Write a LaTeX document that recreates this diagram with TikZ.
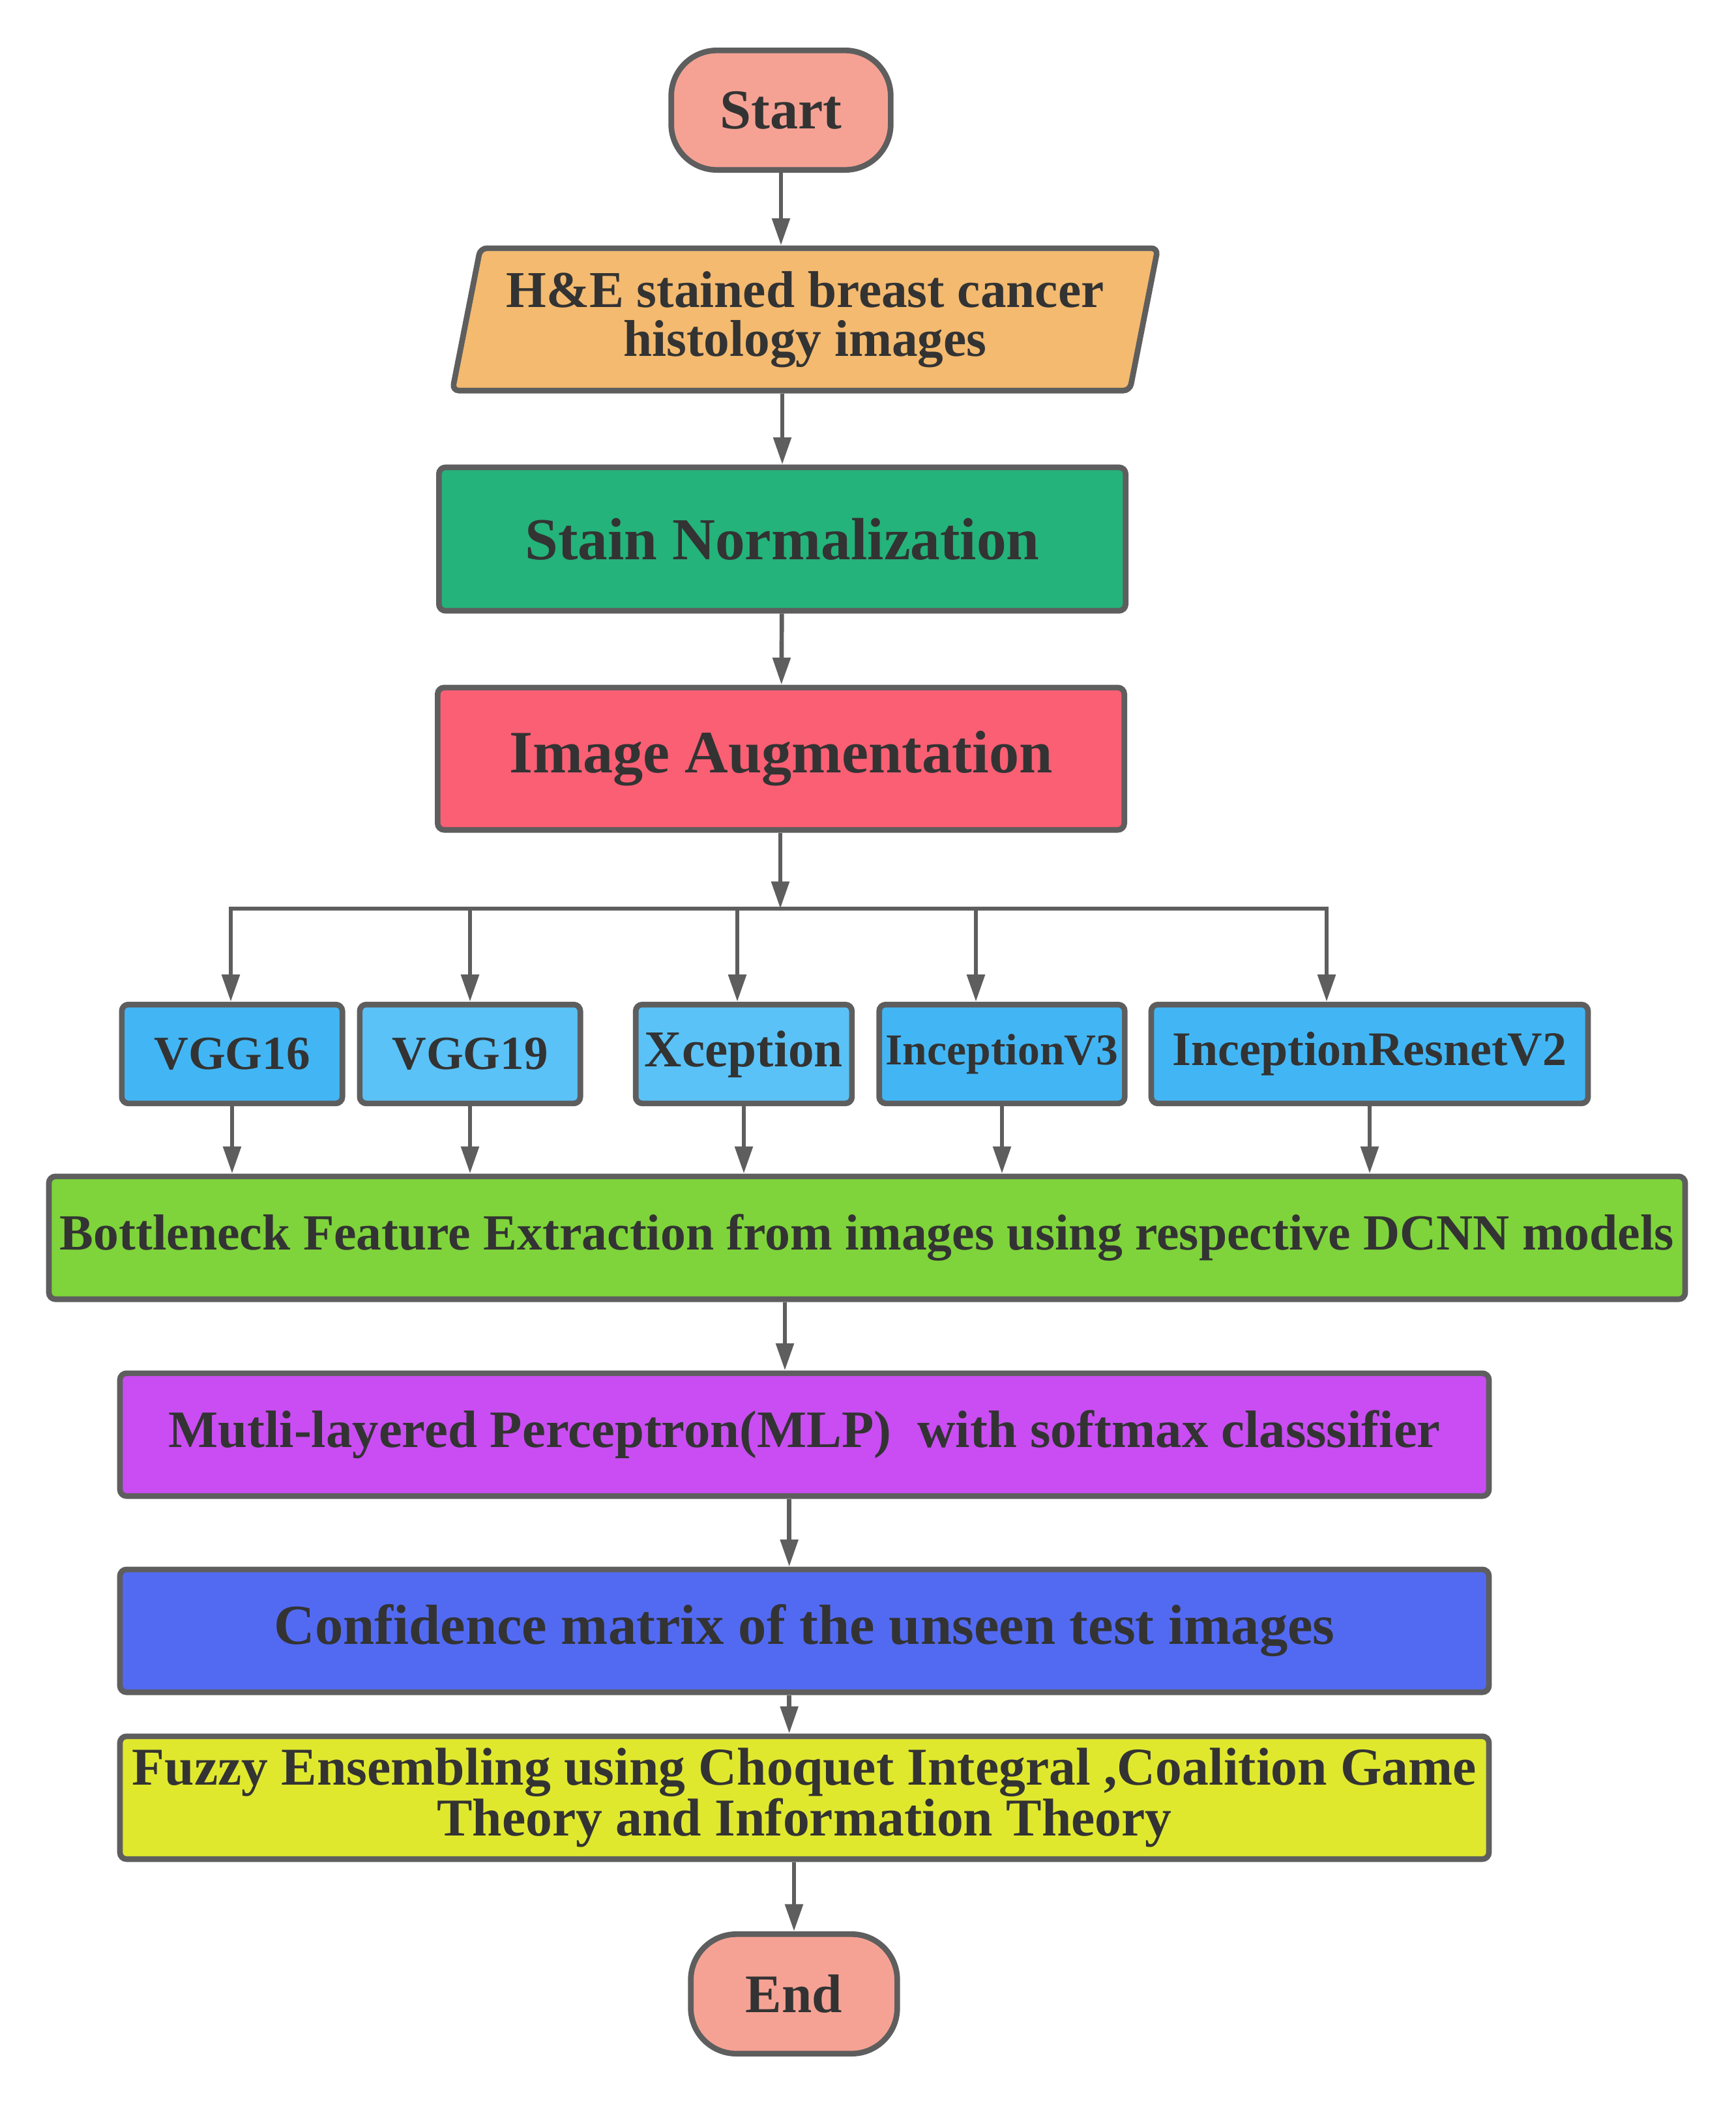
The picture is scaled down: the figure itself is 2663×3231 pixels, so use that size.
\documentclass[tikz,border=0pt]{standalone}
\usepackage{fontspec}
\setmainfont{Liberation Serif}
\usetikzlibrary{arrows.meta,shapes.geometric}

\definecolor{edgegray}{HTML}{5E5E5E}
\definecolor{textgray}{HTML}{333333}
\definecolor{termred}{HTML}{F5A294}
\definecolor{dataorange}{HTML}{F3BA70}
\definecolor{staingreen}{HTML}{24B37A}
\definecolor{augred}{HTML}{FA5F74}
\definecolor{netblue}{HTML}{42B6F4}
\definecolor{netlight}{HTML}{5AC2F7}
\definecolor{featgreen}{HTML}{7ED43A}
\definecolor{mlpviolet}{HTML}{C94DF2}
\definecolor{confblue}{HTML}{526AF2}
\definecolor{fuzzyyellow}{HTML}{E0E82E}

\tikzset{
  base/.style={draw=edgegray, line width=2.6pt, text=textgray, align=center, inner sep=0pt},
  procbox/.style={base, rectangle, rounded corners=3pt},
  termbox/.style={base, rectangle, rounded corners=21pt},
  databox/.style={base, trapezium, trapezium left angle=75, trapezium right angle=105,
    trapezium stretches=true, rounded corners=3pt},
  txt/.style={font=\bfseries\fontsize{#1}{#1}\selectfont},
  flow/.style={draw=edgegray, line width=2pt, -{Triangle[length=12.5pt,width=8pt]}}
}

\begin{document}
\begin{tikzpicture}[x=0.3pt,y=-0.3pt]
\useasboundingbox (0,0) rectangle (2663,3231);

% Terminal
\node (start) at (1198,169) [termbox, fill=termred, minimum width=101pt, minimum height=55pt, txt=25.9] {Start};
% Input data
\node (data) at (1235,490) [databox, fill=dataorange, minimum width=325pt, minimum height=65.5pt,
  font=\bfseries\fontsize{23.8}{22.5}\selectfont] {H\&E stained breast cancer\\histology images};
% Preprocessing
\node (stain) at (1200,827) [procbox, fill=staingreen, minimum width=316pt, minimum height=66pt, txt=27.4] {Stain Normalization};
\node (aug) at (1198,1164) [procbox, fill=augred, minimum width=316pt, minimum height=65.5pt, txt=27.7] {Image Augmentation};

% DCNN models
\node (vgga) at (356,1617) [procbox, fill=netblue, minimum width=101.5pt, minimum height=45.5pt, txt=21.9] {VGG16};
\node (vggb) at (721,1617) [procbox, fill=netlight, minimum width=101.5pt, minimum height=45.5pt, txt=21.9] {VGG19};
\node (xcep) at (1141,1617) [procbox, fill=netlight, minimum width=99.5pt, minimum height=45.5pt, txt=23.8] {Xception};
\node (incv) at (1537,1617) [procbox, fill=netblue, minimum width=113pt, minimum height=45.5pt, txt=20.3] {InceptionV3};
\node (incres) at (2101,1617) [procbox, fill=netblue, minimum width=201pt, minimum height=45.5pt, txt=22.2] {InceptionResnetV2};

% Features and classification
\node (feat) at (1330,1899) [procbox, fill=featgreen, minimum width=753pt, minimum height=56.5pt, txt=23.3] {Bottleneck Feature Extraction from images using respective DCNN models};
\node (mlp) at (1234,2201) [procbox, fill=mlpviolet, minimum width=630pt, minimum height=56.5pt, txt=24.2] {Mutli-layered Perceptron(MLP) \ with softmax classsifier};
\node (conf) at (1234,2502) [procbox, fill=confblue, minimum width=630pt, minimum height=56.5pt, txt=26] {Confidence matrix of the unseen test images};
\node (fuzzy) at (1234,2758) [procbox, fill=fuzzyyellow, minimum width=630pt, minimum height=56.5pt,
  font=\bfseries\fontsize{24.5}{23.5}\selectfont] {Fuzzy Ensembling using Choquet Integral ,Coalition Game\\Theory and Information Theory};
\node (end) at (1218,3059) [termbox, fill=termred, minimum width=95pt, minimum height=55pt, txt=25] {End};

% bus
\coordinate (bus) at (1197,1394);
\coordinate (busl) at (354,1394);
\coordinate (busr) at (2035,1394);

% Connectors
\draw [flow] (start) -- (data.north -| start);
\draw [flow] (stain.north |- data.south) -- (stain.north);
\draw [flow] (stain) -- (aug);
\draw [flow] (aug.south -| bus) -- (bus);
\draw [draw=edgegray, line width=2pt, line cap=rect] (busl) -- (busr);
\draw [flow] (busl) -- (busl |- vgga.north);
\draw [flow] (vggb.north |- bus) -- (vggb.north);
\draw [flow] ([xshift=-3pt]xcep.north |- bus) -- ([xshift=-3pt]xcep.north);
\draw [flow] ([xshift=-12pt]incv.north |- bus) -- ([xshift=-12pt]incv.north);
\draw [flow] (busr) -- (busr |- incres.north);
\foreach \m in {vgga,vggb,xcep,incv,incres}
  \draw [flow] (\m.south) -- (\m.south |- feat.north);
\draw [flow] ([xshift=-9pt]mlp.north |- feat.south) -- ([xshift=-9pt]mlp.north);
\draw [flow] ([xshift=-7pt]mlp.south) -- ([xshift=-7pt]conf.north);
\draw [flow] ([xshift=-7pt]conf.south) -- ([xshift=-7pt]fuzzy.north);
\draw [flow] (end.north |- fuzzy.south) -- (end.north);

\end{tikzpicture}
\end{document}
